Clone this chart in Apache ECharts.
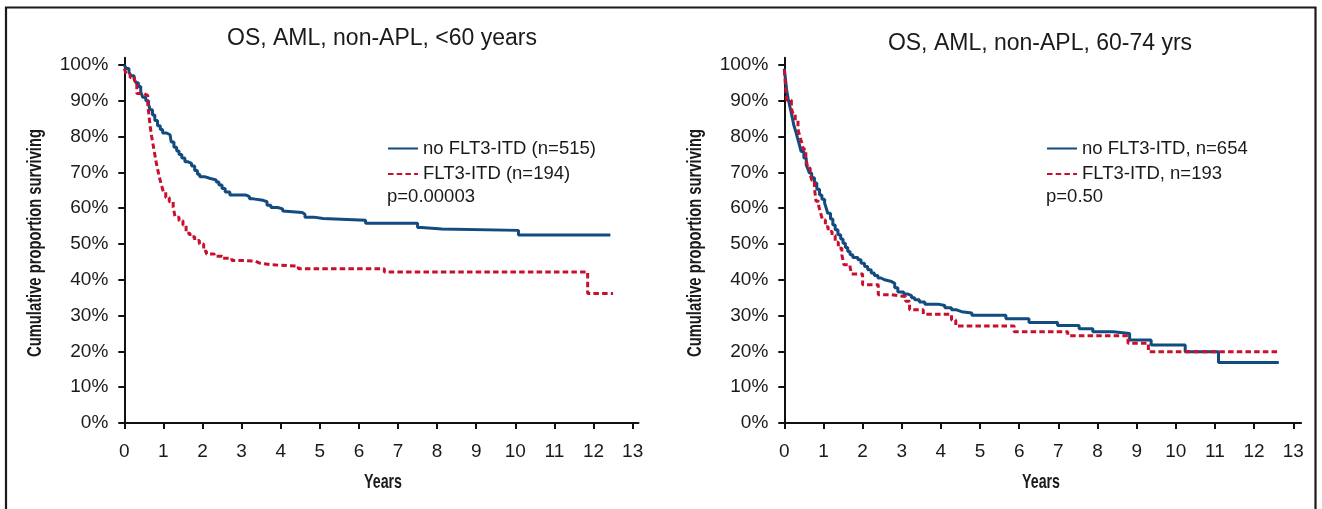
<!DOCTYPE html>
<html><head><meta charset="utf-8">
<script src="https://cdn.jsdelivr.net/npm/echarts@6/dist/echarts.min.js"></script>
<style>html,body{margin:0;padding:0;background:#fff}#c{width:1322px;height:509px}</style>
</head><body><div id="c"></div>
<script>
// ---- tick labels ----
const yTicks = [0, 10, 20, 30, 40, 50, 60, 70, 80, 90, 100];
const yTickLabels = ['0%', '10%', '20%', '30%', '40%', '50%', '60%', '70%', '80%', '90%', '100%'];
const xTicks = [0, 1, 2, 3, 4, 5, 6, 7, 8, 9, 10, 11, 12, 13];
const xTickLabels = ['0', '1', '2', '3', '4', '5', '6', '7', '8', '9', '10', '11', '12', '13'];

// ---- text ----
const panelTitles = ['OS, AML, non-APL, <60 years', 'OS, AML, non-APL, 60-74 yrs'];
const leftSeriesNames = ['no FLT3-ITD (n=515)', 'FLT3-ITD (n=194)'];
const rightSeriesNames = ['no FLT3-ITD, n=654', 'FLT3-ITD, n=193'];
const pValues = ['p=0.00003', 'p=0.50'];
const xAxisName = 'Years';
const yAxisName = 'Cumulative proportion surviving';

// ---- left panel: <60 years ----
const leftNoITDYears = [0, 0.05, 0.12, 0.17, 0.25, 0.3, 0.36, 0.42, 0.47, 0.55, 0.62, 0.66, 0.72, 0.78, 0.85, 0.92, 0.98, 1.08, 1.17, 1.2, 1.27, 1.34, 1.4, 1.47, 1.55, 1.62, 1.72, 1.8, 1.87, 1.93, 2.05, 2.2, 2.35, 2.42, 2.5, 2.58, 2.7, 3.1, 3.2, 3.3, 3.55, 3.65, 3.75, 3.92, 4.05, 4.1, 4.55, 4.62, 4.85, 5.08, 6.17, 7.5, 7.6, 8.12, 10.08, 12.43];
const leftNoITDPct = [100, 99, 98, 97, 96, 95, 94, 92.5, 91, 90, 89, 87.5, 86, 84.5, 83, 82, 81, 80.5, 80, 78.5, 77, 76, 75, 74, 73, 72.5, 71.8, 70.5, 69.5, 68.8, 68.3, 67.9, 67.3, 66.5, 65.5, 64.5, 63.7, 63.2, 62.6, 62.2, 61.8, 60.8, 60.2, 59.8, 59.2, 58.8, 58.3, 57.5, 57.1, 56.6, 55.8, 54.6, 54.2, 53.8, 52.5, 52.5];
const leftITDYears = [0, 0.05, 0.15, 0.26, 0.32, 0.5, 0.6, 0.63, 0.66, 0.7, 0.74, 0.78, 0.82, 0.86, 0.9, 0.95, 1.0, 1.06, 1.15, 1.25, 1.3, 1.4, 1.5, 1.58, 1.68, 1.8, 1.92, 2.03, 2.1, 2.3, 2.5, 2.75, 3.0, 3.35, 3.45, 3.75, 4.45, 6.65, 11.85, 12.5];
const leftITDPct = [99, 97.5, 96.5, 95.5, 92, 91.5, 89, 86, 83, 80, 77.5, 75, 72.5, 70.5, 68.5, 66.5, 64.5, 63, 61.8, 60.3, 57.5, 56.5, 55.3, 53, 52, 51, 50, 48, 47.2, 46.6, 46, 45.4, 45.2, 44.7, 44.2, 43.8, 43.1, 42.2, 36.2, 36.2];

// ---- right panel: 60-74 years ----
const rightNoITDYears = [0, 0.03, 0.06, 0.1, 0.14, 0.17, 0.21, 0.24, 0.29, 0.34, 0.39, 0.43, 0.5, 0.56, 0.6, 0.64, 0.7, 0.77, 0.83, 0.9, 0.96, 1.03, 1.07, 1.11, 1.18, 1.24, 1.3, 1.37, 1.44, 1.5, 1.56, 1.62, 1.68, 1.75, 1.88, 1.96, 2.05, 2.13, 2.22, 2.3, 2.39, 2.47, 2.56, 2.74, 2.82, 2.9, 3.05, 3.16, 3.25, 3.33, 3.45, 3.59, 3.93, 4.1, 4.27, 4.4, 4.53, 4.79, 5.66, 6.25, 6.98, 7.53, 7.88, 8.4, 8.82, 9.37, 10.24, 11.09, 12.63];
const rightNoITDPct = [99, 96, 93, 90.5, 88.5, 87, 85, 83.3, 81.5, 79.5, 77.5, 75.8, 74, 72.1, 71, 69.8, 68.5, 67, 65.3, 63.7, 62.5, 61.4, 60, 58.6, 57, 55.3, 54, 52.6, 51.4, 50.2, 49, 47.9, 47, 46.2, 45.6, 44.6, 43.7, 42.8, 41.9, 41.2, 40.5, 40, 39.5, 39, 37.8, 36.6, 36, 35.6, 35, 34.4, 33.8, 33.2, 32.8, 32.2, 31.6, 31.1, 30.7, 30.1, 29.1, 28.1, 27.2, 26.3, 25.5, 25.0, 23.2, 21.8, 19.9, 16.9, 16.9];
const rightITDYears = [0, 0.03, 0.06, 0.18, 0.22, 0.28, 0.35, 0.39, 0.44, 0.48, 0.55, 0.6, 0.66, 0.7, 0.77, 0.81, 0.88, 0.93, 0.98, 1.05, 1.12, 1.22, 1.3, 1.38, 1.47, 1.52, 1.68, 1.72, 2.0, 2.4, 2.74, 3.1, 3.2, 3.55, 4.27, 4.38, 5.87, 7.24, 8.78, 9.3, 12.63];
const rightITDPct = [98.6, 94, 90.2, 88, 86.5, 84.5, 82, 80.3, 78.5, 76.5, 74, 71.2, 69.5, 67.8, 65.6, 61.9, 60.5, 58.5, 56.7, 54.8, 53.5, 52.4, 50.5, 48.8, 47, 44.2, 43.5, 41.6, 38.6, 35.8, 35.3, 34, 31.6, 30.4, 28.8, 27.1, 25.5, 24.4, 22.3, 19.9, 19.9];

const BLUE = '#114b80';
const RED = '#c8102e';
const INK = '#1a1a1a';
const SANS = "'Liberation Sans', Arial, Helvetica, sans-serif";

const pairs = (xs, ys) => xs.map((x, i) => [x, ys[i]]);

function makeX(idx, max) {
  return {
    type: 'value', gridIndex: idx, min: 0, max: max,
    axisLine: { show: true, onZero: false, lineStyle: { color: '#111', width: 2 } },
    axisTick: { show: true, length: 6, lineStyle: { color: '#111', width: 2 }, customValues: xTicks },
    axisLabel: { customValues: xTicks, margin: 19, fontSize: 19, fontFamily: SANS, color: INK,
      formatter: v => xTickLabels[xTicks.indexOf(v)] },
    splitLine: { show: false }
  };
}
function makeY(idx) {
  return {
    type: 'value', gridIndex: idx, min: 0, max: 102,
    axisLine: { show: true, onZero: false, lineStyle: { color: '#111', width: 2 } },
    axisTick: { show: true, length: 6, lineStyle: { color: '#111', width: 2 }, customValues: yTicks },
    axisLabel: { customValues: yTicks, margin: 16, fontSize: 19, fontFamily: SANS, color: INK,
      formatter: v => yTickLabels[yTicks.indexOf(v)] },
    splitLine: { show: false }
  };
}
function makeSeries(name, idx, data, color, dashed) {
  return {
    name: name, type: 'line', xAxisIndex: idx, yAxisIndex: idx, step: 'end',
    symbol: 'none', showSymbol: false, data: data, animation: false,
    lineStyle: { color: color, width: 3, type: dashed ? [5.5, 3.2] : 'solid', cap: 'butt' },
    itemStyle: { color: color }, z: dashed ? 3 : 2
  };
}
function makeLegend(names, left) {
  return {
    data: names, orient: 'vertical', left: left, top: 139, padding: 0,
    itemWidth: 30, itemHeight: 14, itemGap: 6.5, selectedMode: false,
    itemStyle: { opacity: 0 },
    textStyle: { fontSize: 18.5, lineHeight: 18, fontFamily: SANS, color: INK }
  };
}
// condensed axis title: the original uses a narrow face, so the text is squeezed to the same width
const AXIS_TITLE_FONT = 'bold 21px ' + SANS;
const measureCtx = document.createElement('canvas').getContext('2d');
function axisTitle(text, x, y, rot, targetWidth) {
  measureCtx.font = AXIS_TITLE_FONT;
  const w = measureCtx.measureText(text).width || targetWidth;
  return { type: 'text', x: x, y: y, rotation: rot, scaleX: targetWidth / w, silent: true,
    style: { text: text, align: 'center', verticalAlign: 'middle', fontSize: 21, fontWeight: 'bold',
      fontFamily: SANS, fill: INK } };
}

const chart = echarts.init(document.getElementById('c'), null, { renderer: 'canvas' });
chart.setOption({
  backgroundColor: '#ffffff',
  animation: false,
  grid: [
    { left: 124.3, top: 57.8, width: 514.2, height: 365.2 },
    { left: 784.3, top: 57.8, width: 516.8, height: 365.2 }
  ],
  xAxis: [makeX(0, 13.15), makeX(1, 13.2)],
  yAxis: [makeY(0), makeY(1)],
  legend: [makeLegend(leftSeriesNames, 387), makeLegend(rightSeriesNames, 1046)],
  series: [
    makeSeries(leftSeriesNames[0], 0, pairs(leftNoITDYears, leftNoITDPct), BLUE, false),
    makeSeries(leftSeriesNames[1], 0, pairs(leftITDYears, leftITDPct), RED, true),
    makeSeries(rightSeriesNames[0], 1, pairs(rightNoITDYears, rightNoITDPct), BLUE, false),
    makeSeries(rightSeriesNames[1], 1, pairs(rightITDYears, rightITDPct), RED, true)
  ],
  graphic: [
    { type: 'rect', silent: true, shape: { x: 6, y: 7.5, width: 1309.5, height: 600 },
      style: { fill: 'none', stroke: INK, lineWidth: 2.2 } },
    { type: 'text', x: 382, y: 38.5, style: { text: panelTitles[0], align: 'center', verticalAlign: 'middle',
      fontSize: 23, fontFamily: SANS, fill: INK } },
    { type: 'text', x: 1040, y: 44, style: { text: panelTitles[1], align: 'center', verticalAlign: 'middle',
      fontSize: 23, fontFamily: SANS, fill: INK } },
    { type: 'text', x: 387, y: 196.5, style: { text: pValues[0], align: 'left', verticalAlign: 'middle',
      fontSize: 18.5, fontFamily: SANS, fill: INK } },
    { type: 'text', x: 1046, y: 196.5, style: { text: pValues[1], align: 'left', verticalAlign: 'middle',
      fontSize: 18.5, fontFamily: SANS, fill: INK } },
    axisTitle(xAxisName, 383, 482, 0, 38),
    axisTitle(xAxisName, 1041, 482, 0, 38),
    axisTitle(yAxisName, 35.5, 243, Math.PI / 2, 228),
    axisTitle(yAxisName, 695, 243, Math.PI / 2, 228)
  ]
});
</script></body></html>
